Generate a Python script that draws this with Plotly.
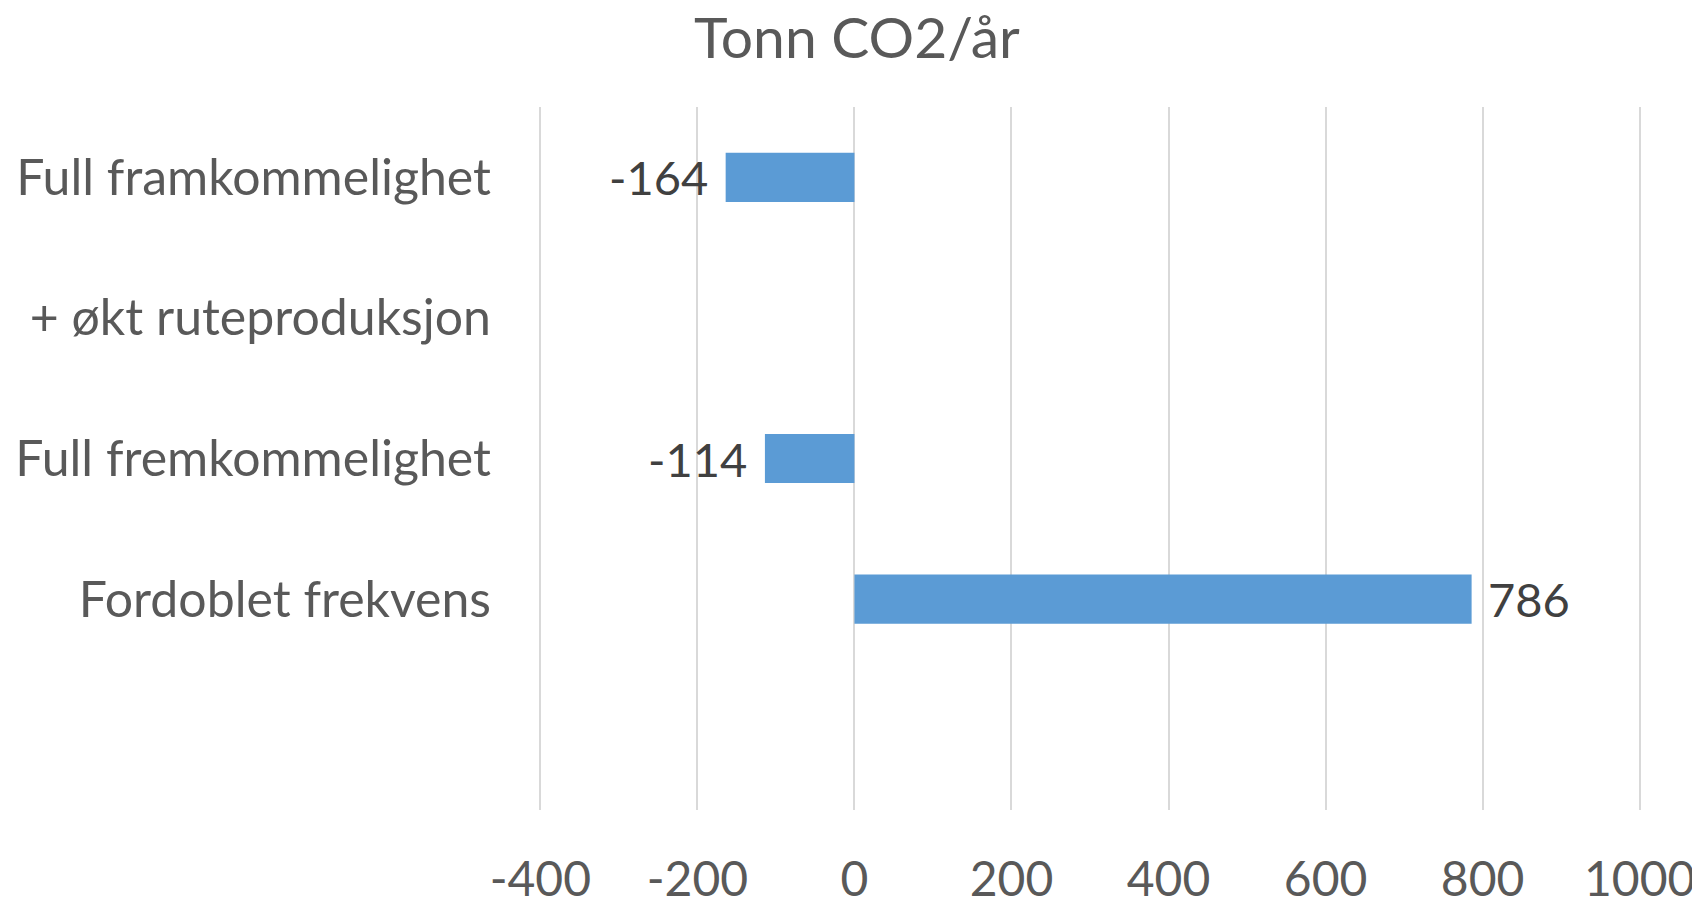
import plotly.graph_objects as go

categories = ["Full framkommelighet", "+ økt ruteproduksjon", "Full fremkommelighet", "Fordoblet frekvens"]
values = [-164, None, -114, 786]
tick_values = [-400, -200, 0, 200, 400, 600, 800, 1000]
tick_labels = ["-400", "-200", "0", "200", "400", "600", "800", "1000"]
title_text = "Tonn CO2/år"

FONT = "Lato"
BAR = "#5B9BD5"
GRID = "#D9D9D9"
TXT = "#595959"
LBL = "#404040"

fig = go.Figure()
fig.add_trace(go.Bar(
    y=list(range(len(categories))),
    x=values,
    orientation="h",
    marker=dict(color=BAR, line=dict(width=0)),
    width=0.35,
    hoverinfo="x",
))

for i, v in enumerate(values):
    if v is None:
        continue
    fig.add_annotation(
        x=v, y=i, xref="x", yref="y",
        text=str(v), showarrow=False,
        xanchor="left" if v >= 0 else "right",
        xshift=14 if v >= 0 else -16,
        font=dict(family=FONT, size=47, color=LBL),
    )

fig.update_layout(
    width=1700, height=900,
    margin=dict(l=530, r=66, t=99, b=98, autoexpand=False),
    paper_bgcolor="white", plot_bgcolor="white",
    showlegend=False,
    title=dict(text=title_text, x=0.4994, xref="container", xanchor="center",
               y=0.967, yref="container", yanchor="middle",
               font=dict(family=FONT, size=57, color=TXT)),
    font=dict(family=FONT, color=TXT),
)

fig.update_xaxes(
    range=[-403, 1003],
    tickvals=tick_values, ticktext=tick_labels,
    showgrid=True, gridcolor=GRID, gridwidth=1.5,
    zeroline=True, zerolinecolor=GRID, zerolinewidth=1.5,
    showline=False, ticks="",
    automargin=False,
    ticklabelstandoff=37,
    tickfont=dict(family=FONT, size=48, color=TXT),
)
fig.update_yaxes(
    range=[len(categories) + 0.5, -0.5],
    tickvals=list(range(len(categories))), ticktext=categories,
    showgrid=False, zeroline=False, showline=False, ticks="",
    automargin=False,
    ticklabelstandoff=46,
    tickfont=dict(family=FONT, size=50, color=TXT),
)

fig.write_html("out.html")
